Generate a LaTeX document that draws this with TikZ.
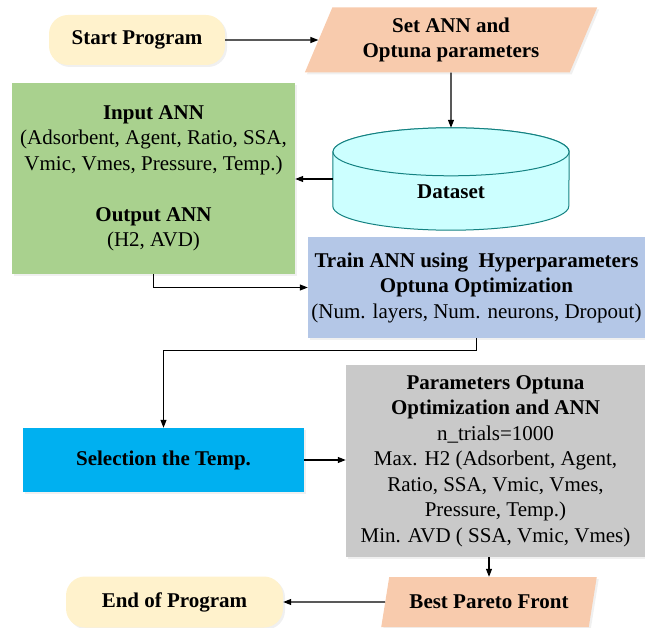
\documentclass[tikz,border=0pt]{standalone}
\usepackage{fontspec}
\setmainfont{Liberation Serif}
\usepackage{tikz}
\usetikzlibrary{shapes.geometric, arrows.meta, positioning, shadows}
\definecolor{startfill}{RGB}{255,242,204}
\definecolor{parafill}{RGB}{248,203,173}
\definecolor{inputgreen}{RGB}{169,209,142}
\definecolor{cylfill}{RGB}{204,255,255}
\definecolor{cyldraw}{RGB}{20,130,130}
\definecolor{trainblue}{RGB}{180,199,231}
\definecolor{selcyan}{RGB}{0,176,240}
\definecolor{optgray}{RGB}{201,201,201}
\tikzset{
  block/.style={
    rectangle, inner sep=1pt, align=center,
    font=\fontsize{21}{25.5}\selectfont,
    drop shadow={shadow xshift=2pt, shadow yshift=-2pt, opacity=0.12}
  },
  termblock/.style={block, rounded corners=19pt, fill=startfill, font=\fontsize{21}{25.5}\selectfont\bfseries},
  ioblock/.style={block, trapezium, trapezium stretches=true, fill=parafill,
    font=\fontsize{21}{25.5}\selectfont\bfseries},
  inblock/.style={block, fill=inputgreen},
  trainblock/.style={block, fill=trainblue},
  selblock/.style={block, fill=selcyan, font=\fontsize{21}{25.5}\selectfont\bfseries},
  optblock/.style={block, fill=optgray},
  cylbody/.style={fill=cylfill, draw=cyldraw, line width=1pt},
  arrow/.style={-{Triangle[length=8pt, width=6pt]}, line width=1.1pt, color=black}
}

\begin{document}
\begin{tikzpicture}[x=1pt, y=1pt]
  \useasboundingbox (0,0) rectangle (645,-628);

  % Top row
  \node[termblock, minimum width=176, minimum height=50] (start) at (137,-40) {Start Program};
  \node[ioblock, trapezium left angle=66, trapezium right angle=114,
        minimum width=293, minimum height=65] (set) at (451,-40) {Set ANN and\\Optuna parameters};

  % Dataset (drawn by hand)
  \node[minimum width=236, minimum height=102, inner sep=0pt] (data) at (451,-179) {};
  \path[cylbody] ([yshift=-24pt]data.north west) -- ([yshift=24pt]data.south west)
    arc[start angle=180, end angle=360, x radius=118pt, y radius=24pt]
    -- ([yshift=-24pt]data.north east)
    arc[start angle=0, end angle=180, x radius=118pt, y radius=24pt] -- cycle;
  \draw[cylbody] ([yshift=-24pt]data.north) ellipse [x radius=118pt, y radius=24pt];
  \node[font=\fontsize{21}{25.5}\selectfont\bfseries] (datatext) at ([yshift=-13pt]data.center) {Dataset};

  % ANN inputs and outputs
  \node[inblock, minimum width=283, minimum height=191] (inout) at (153.5,-178.5)
    {\textbf{Input ANN}\\(Adsorbent, Agent, Ratio, SSA,\\Vmic, Vmes, Pressure, Temp.)\\[25.5pt]
     \textbf{Output ANN}\\(H2, AVD)};

  % Training
  \node[trainblock, minimum width=337, minimum height=101] (train) at (476.5,-287.5)
    {\textbf{Train ANN using~ Hyperparameters}\\\textbf{Optuna Optimization}\\(Num. layers, Num. neurons, Dropout)};

  % Selection and optimization
  \node[selblock, minimum width=281, minimum height=64] (sel) at (163.5,-460) {Selection the Temp.};
  \node[optblock, minimum width=299, minimum height=192] (opt) at (495.5,-461)
    {\textbf{Parameters Optuna}\\\textbf{Optimization and ANN}\\n\_trials=1000\\Max. H2 (Adsorbent, Agent,\\
     Ratio, SSA, Vmic, Vmes,\\Pressure, Temp.)\\Min. AVD ( SSA, Vmic, Vmes)};

  % Bottom row
  \node[ioblock, trapezium left angle=68, trapezium right angle=112,
        minimum width=216, minimum height=50] (pareto) at (489,-602) {Best Pareto Front};
  \node[termblock, minimum width=217, minimum height=51] (finish) at (174.5,-602) {End of Program};

  % Arrows
  \draw[arrow] (start) -- (set);
  \draw[arrow] (set) -- (data.north);
  \draw[arrow] (data.west) -- (data.west -| inout.east);
  \draw[arrow] (inout.south) |- (train.west);
  \draw[arrow] (train.south) -- ++(0,-12) -| (sel.north);
  \draw[arrow] (sel.east) -- (sel.east -| opt.west);
  \draw[arrow] (pareto.north |- opt.south) -- (pareto.north);
  \draw[arrow] (pareto) -- (finish);

\end{tikzpicture}
\end{document}
